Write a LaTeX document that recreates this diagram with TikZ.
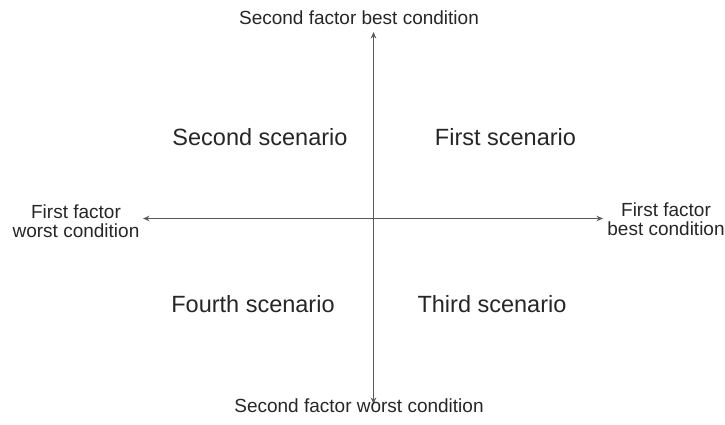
\documentclass[tikz,border=0pt]{standalone}
\usepackage{fontspec}
\setmainfont{Liberation Sans}
\usetikzlibrary{arrows.meta}
\begin{document}
\begin{tikzpicture}[x=1pt,y=1pt,
  axis/.style={draw=black!65, line width=1.1pt, -{Stealth[length=6.5pt,width=5.5pt]}},
  scen/.style={font=\fontsize{23.5}{28}\selectfont, text=black!85, anchor=base, inner sep=0pt},
  lab/.style={font=\fontsize{19}{19}\selectfont, text=black!85, inner sep=0pt, align=center}]
\useasboundingbox (0,0) rectangle (725,424);
\coordinate (O) at (373.5,205.5);
\coordinate (L) at (143,205.5);
\coordinate (R) at (603,205.5);
\coordinate (T) at (373.5,392);
\coordinate (B) at (373.5,20);
\draw[axis] (O) -- (L);
\draw[axis] (O) -- (R);
\draw[axis] (O) -- (T);
\draw[axis] (O) -- (B);
\node[lab, anchor=base] (top) at (359,399) {Second factor best condition};
\node[lab, anchor=base] (bot) at (359,12) {Second factor worst condition};
\node[lab, anchor=base] (left) at (76,187) {First factor\\worst condition};
\node[lab, anchor=base] (right) at (666,189) {First factor\\best condition};
\node[scen] (s2) at (260,279) {Second scenario};
\node[scen] (s1) at (505.5,279) {First scenario};
\node[scen] (s4) at (253,112) {Fourth scenario};
\node[scen] (s3) at (492,112) {Third scenario};
\end{tikzpicture}
\end{document}
